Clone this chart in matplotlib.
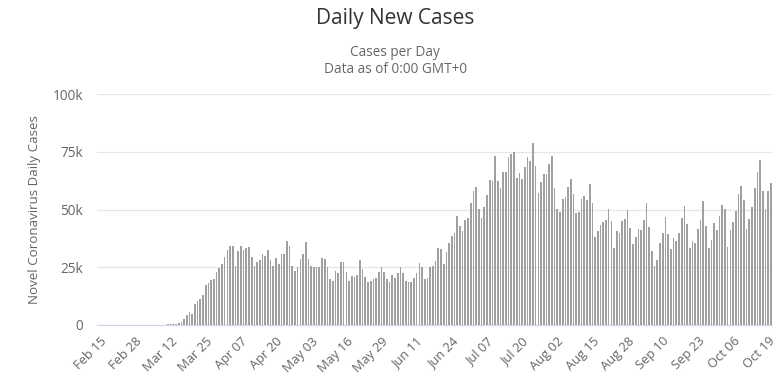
import matplotlib
matplotlib.use("Agg")
import matplotlib.pyplot as plt
import numpy as np
import pandas as pd

# daily new cases (thousands), Feb 15 .. Oct 20
feb_mar_start = [0, 0, 0, 0, 0, 0, 0, 0, 0, 0, 0, 0, 0, 0,
                 0.01, 0.01, 0.02, 0.02, 0.03, 0.07, 0.05, 0.14, 0.12, 0.07,
                 0.19, 0.29, 0.27, 0.35]
march_april = [0.3, 0.7, 1.3, 2.7, 4.2, 5.6, 4.6, 8.9, 10.3, 11.1, 13.2, 17.1,
               18.3, 19.3, 19.7, 22.8, 24.7, 26.2, 29.5, 32.3, 34.1, 34.1,
               25.4, 31.9, 34.1, 32.3, 33.3, 33.6, 29.5, 25.7, 27.2, 28.3,
               30.9, 30.0]
april_may = [32.6, 28.3, 25.4, 29.0, 26.2, 30.9, 30.9, 36.2, 34.3, 25.4, 23.3,
             25.1, 28.6, 30.9, 35.8, 28.6, 25.7, 25.1, 25.1, 25.1, 29.0, 28.6,
             25.1, 19.7, 19.0, 23.3, 22.3, 27.2, 27.2, 22.8, 19.0, 21.4, 20.8,
             21.8]
may_june = [28.0, 24.3, 20.8, 18.5, 19.1, 19.7, 20.4, 22.8, 25.1, 22.8, 20.0,
            18.5, 21.8, 20.4, 22.3, 25.1, 22.3, 19.0, 18.5, 18.5, 20.4, 22.6,
            26.9, 25.1, 20.0, 20.4, 25.1, 25.7, 27.6, 33.3, 32.9, 26.2, 31.5,
            35.5, 38.4, 39.8]
june_july = [47.2, 42.9, 40.7, 45.5, 46.5, 52.7, 58.1, 59.6, 50.1, 46.5, 50.9,
             56.2, 62.9, 62.5, 73.1, 62.5, 59.1, 66.1, 66.4, 72.7, 74.1, 75.1,
             63.5, 65.8, 63.2, 68.3, 72.7, 70.8, 78.9, 69.0, 57.1, 61.8, 65.4,
             65.4, 69.7]
july_aug = [73.1, 59.1, 50.1, 49.0, 54.5, 55.2, 59.6, 63.2, 56.7, 48.7, 49.0,
            54.5, 55.9, 54.2, 61.0, 53.0, 38.2, 40.7, 43.2, 44.6, 45.5, 50.1,
            45.0, 33.4, 40.7, 40.0, 45.0, 46.1, 49.8, 42.1, 34.9, 38.2, 41.7,
            41.1, 45.5]
sep_oct = [53.0, 42.6, 31.9, 25.4, 28.3, 35.3, 39.7, 46.9, 39.2, 33.0, 37.8,
           36.3, 40.0, 46.5, 51.3, 43.6, 33.4, 36.3, 35.6, 41.4, 45.5, 53.8,
           42.9, 33.4, 36.8, 44.0, 41.1, 47.2, 51.9, 50.1, 33.9, 41.1, 44.6,
           49.4, 56.7, 60.3, 54.2, 41.7, 45.8, 50.9, 59.1, 66.1, 71.6, 58.1,
           50.1, 58.1, 61.5]

cases = np.array(feb_mar_start + march_april + april_may + may_june
                 + june_july + july_aug + sep_oct) * 1000
dates = pd.date_range("2020-02-15", periods=len(cases), freq="D")
tick_dates = pd.date_range("2020-02-15", "2020-10-19", freq="13D")
y_ticks = [0, 25000, 50000, 75000, 100000]
y_labels = ["0", "25k", "50k", "75k", "100k"]

plt.rcParams["font.family"] = ["Open Sans", "DejaVu Sans"]

fig = plt.figure(figsize=(7.84, 3.90), dpi=100)
ax = fig.add_axes([97 / 784, 1 - 325 / 390, 675 / 784, 231 / 390])

x = np.arange(len(cases))
ax.bar(x, cases, width=0.62, color="#a0a0a0", linewidth=0, zorder=3)

tick_pos = [(d - dates[0]).days for d in tick_dates]
ax.set_xticks(tick_pos)
ax.set_xticklabels([d.strftime("%b %d") for d in tick_dates], rotation=45,
                   ha="right", rotation_mode="anchor", fontsize=9.3,
                   color="#666666")
ax.set_xlim(-1.2, len(cases) - 0.6)
ax.set_ylim(0, 100000)
ax.set_yticks(y_ticks)
ax.set_yticklabels(y_labels, fontsize=9.8, color="#666666")
ax.tick_params(axis="y", length=0, pad=10)
ax.tick_params(axis="x", length=0, pad=7)
ax.grid(axis="y", color="#e6e6e6", linewidth=0.9, zorder=0)
for side in ["top", "right", "left"]:
    ax.spines[side].set_visible(False)
ax.spines["bottom"].set_color("#ccd6eb")
ax.spines["bottom"].set_zorder(4)
ax.set_ylabel("Novel Coronavirus Daily Cases", fontsize=9.6, color="#666666",
              labelpad=8)

fig.text(0.504, 0.952, "Daily New Cases", ha="center", va="center",
         fontsize=15, color="#333333")
fig.text(0.504, 0.866, "Cases per Day", ha="center", va="center",
         fontsize=9.8, color="#666666")
fig.text(0.504, 0.822, "Data as of 0:00 GMT+0", ha="center", va="center",
         fontsize=9.8, color="#666666")

fig.savefig("out.png", dpi=100)
plt.close(fig)
